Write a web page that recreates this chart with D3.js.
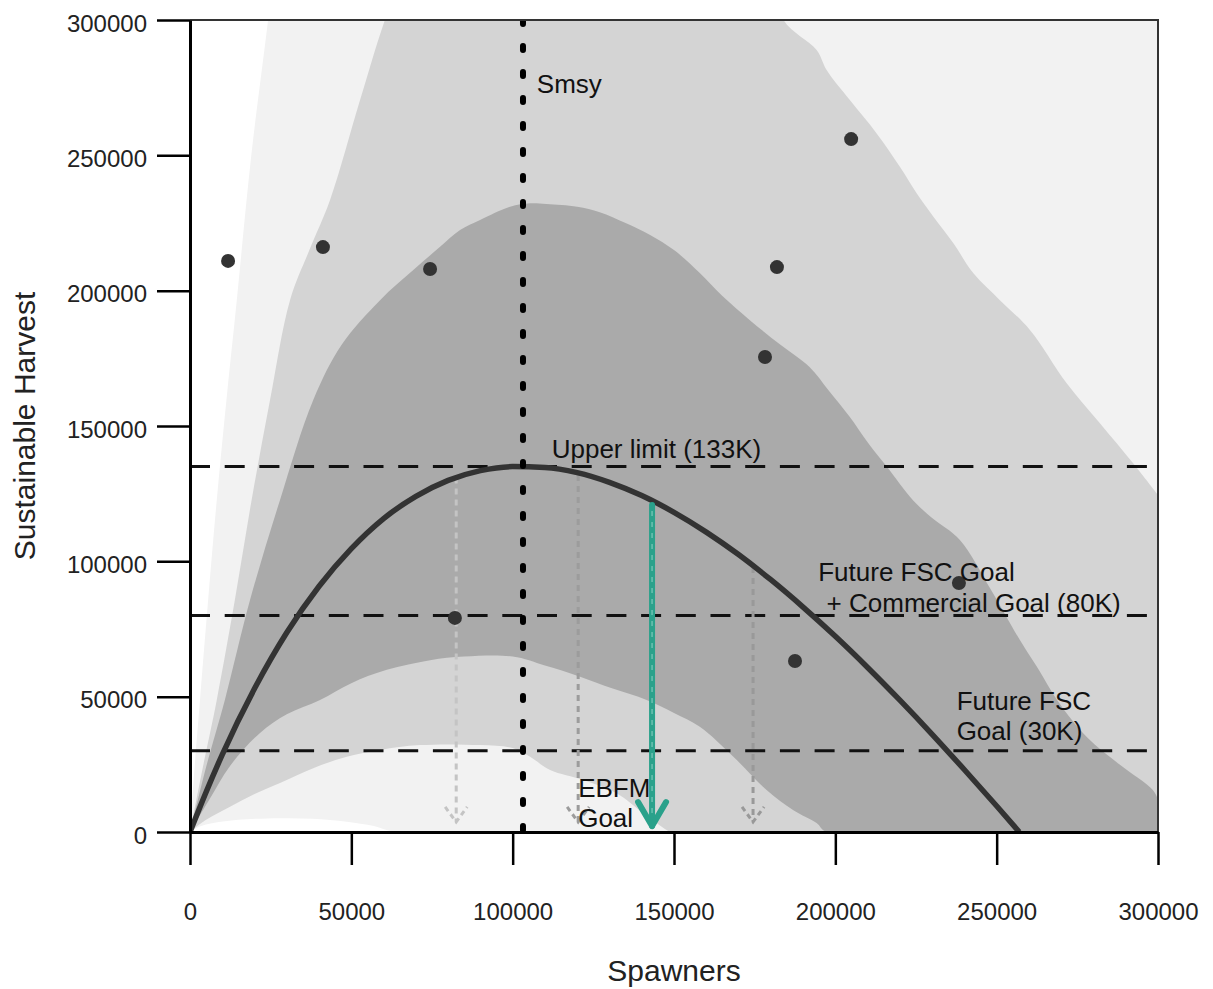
<!DOCTYPE html>
<html><head><meta charset="utf-8">
<script src="https://cdn.jsdelivr.net/npm/d3@7"></script>
<style>
body{margin:0;background:#fff}
text{font-family:"Liberation Sans",Arial,Helvetica,sans-serif}
</style>
</head><body>
<svg id="chart" width="1213" height="989"></svg>
<script>
// ---------- data ----------
const xTicks = [0, 50000, 100000, 150000, 200000, 250000, 300000];
const yTicks = [0, 50000, 100000, 150000, 200000, 250000, 300000];

// median sustainable-harvest curve
const curveS = [0,5000,10000,20000,30000,40000,50000,60000,70000,80000,90000,100000,110000,120000,130000,140000,150000,160000,170000,180000,190000,200000,210000,220000,230000,240000,250000,257000];
const curveH = [0,14800,28600,53000,73700,90800,104700,115800,124000,129900,133500,135000,134700,132800,129200,124300,118100,110800,102500,93200,83100,72300,60800,48700,36100,23000,9600,0];

// observed points
const pointsS = [11800, 41200, 74400, 82100, 178200, 181900, 204900, 187500, 238300];
const pointsH = [211000, 216100, 208000, 79100, 175500, 208700, 256000, 63200, 92000];

// outer band upper (97.5%) and lower (2.5%)
const hi975S = [0,1500,3100,5500,8300,11500,14500,19000,24200,30000,300000];
const hi975H = [0,25000,48800,84000,122700,162000,196500,250000,300000,360000,360000];
const lo025S = [0,3000,7200,15000,27900,38000,48600,57000,64000,300000];
const lo025H = [0,2000,3300,4500,5100,4900,3800,2200,0,0];

// middle band upper (90%) and lower (10%)
const hi90S = [0,4000,8300,13900,19100,24800,31000,37000,43400,52700,60400,70000,175000,183900,194200,197300,204500,212800,220000,225200,230400,236600,242800,251000,260300,271700,282000,292300,299600,300000];
const hi90H = [0,24000,48800,85700,122700,159600,196500,215000,233500,270400,300000,330000,330000,300000,288900,281500,270400,258100,245800,236000,227300,217500,206400,196500,185500,165800,151000,136200,125100,124500];
const lo10S = [0,5000,12400,20000,27900,38000,48600,58900,71300,89900,100000,105400,111600,121900,132200,140500,147700,149000,300000];
const lo10H = [0,4500,9300,14000,18100,23500,27800,30300,32100,32100,31000,27800,22900,19200,14300,6900,700,0,0];

// inner band upper (75%) and lower (25%)
const hi75S = [0,5000,10800,18600,27900,38200,47000,58900,69200,77500,83700,89900,99200,105400,110500,120000,127000,135000,142600,150000,158000,165000,173600,183000,192000,198000,204500,210000,216000,224000,230000,238600,248000,257200,263000,268700,278000,288000,298400,300000];
const hi75H = [0,24000,48800,85700,122700,159600,180000,196500,207600,216200,222400,226100,231000,232300,232000,231000,229000,225000,220600,215000,206500,198000,189000,180000,171800,163000,153300,144000,134900,122700,116000,107900,90000,70900,60000,48800,35000,25000,15500,12000];
const lo25S = [0,6000,12400,21700,30000,40300,50000,61000,74400,85000,100000,110000,120900,131000,141500,150000,158000,168400,178700,187000,194200,197300,300000];
const lo25H = [0,12000,24400,36600,43500,48800,55000,59900,63500,64800,64800,61500,57400,53000,48800,44000,38900,27800,15500,8000,3300,0,0];

// reference levels and annotations
const goalLevels = [135000, 80000, 30000];
const smsy = 103200;
const arrowS = [82500, 120300, 174500];
const arrowTop = [131000, 131900, 97900];
const arrowColor = ["#c4c4c4", "#9c9c9c", "#999999"];
const arrowBottom = 3700;
const ebfmS = 143200, ebfmTop = 120800, ebfmBottom = 2200;

const labels = [
  {t:"Smsy", s:107500, h:273000},
  {t:"Upper limit (133K)", s:112100, h:138100},
  {t:"Future FSC Goal", s:194700, h:92800},
  {t:"+ Commercial Goal (80K)", s:197300, h:81400},
  {t:"Future FSC", s:237600, h:45100},
  {t:"Goal (30K)", s:237600, h:34000},
  {t:"EBFM", s:120300, h:13000},
  {t:"Goal", s:120300, h:2000}
];

// ---------- layout ----------
const L = 190, R = 1158, T = 20, B = 832;
const svg = d3.select("#chart");
const x = d3.scaleLinear().domain([0, 300000]).range([L, R]);
const y = d3.scaleLinear().domain([0, 300000]).range([B, T]);

svg.append("defs").append("clipPath").attr("id","clip")
  .append("rect").attr("x",L).attr("y",T).attr("width",R-L).attr("height",B-T);

const plot = svg.append("g").attr("clip-path","url(#clip)");

const zip = (S,H) => S.map((s,i)=>[s,H[i]]);
const smooth = d3.line().x(d=>x(d[0])).y(d=>y(d[1])).curve(d3.curveCatmullRom.alpha(0.5));
const bandPath = (uS,uH,lS,lH) => {
  const up = smooth(zip(uS,uH));
  const lo = smooth(zip(lS,lH).reverse()).replace(/^M/,"L");
  return up + lo + "Z";
};

const bands = [
  {d: bandPath(hi975S,hi975H,lo025S,lo025H), c:"#f2f2f2"},
  {d: bandPath(hi90S,hi90H,lo10S,lo10H), c:"#d4d4d4"},
  {d: bandPath(hi75S,hi75H,lo25S,lo25H), c:"#aaaaaa"}
];
plot.selectAll("path.band").data(bands).join("path")
  .attr("class","band").attr("d", d=>d.d).attr("fill", d=>d.c);

// horizontal goal lines
plot.selectAll("line.goal").data(goalLevels).join("line")
  .attr("x1", x(0)).attr("x2", x(300000))
  .attr("y1", d=>y(d)).attr("y2", d=>y(d))
  .attr("stroke","#111").attr("stroke-width",3).attr("stroke-dasharray","20,14.7");

// gray dotted arrows
const ga = plot.selectAll("g.garrow").data(arrowS).join("g").attr("class","garrow");
ga.append("line")
  .attr("x1", d=>x(d)).attr("x2", d=>x(d))
  .attr("y1", (d,i)=>y(arrowTop[i])).attr("y2", y(arrowBottom))
  .attr("stroke",(d,i)=>arrowColor[i]).attr("stroke-width",3).attr("stroke-dasharray","6,5");
ga.append("path")
  .attr("d", d=>`M${x(d)-11},${y(arrowBottom)-15}L${x(d)},${y(arrowBottom)}L${x(d)+11},${y(arrowBottom)-15}`)
  .attr("fill","none").attr("stroke",(d,i)=>arrowColor[i]).attr("stroke-width",3).attr("stroke-dasharray","5,4");

// curve
plot.append("path").datum(zip(curveS,curveH))
  .attr("d", d3.line().x(d=>x(d[0])).y(d=>y(d[1])).curve(d3.curveMonotoneX))
  .attr("fill","none").attr("stroke","#333").attr("stroke-width",5.5);

// Smsy dotted vertical
plot.append("line").attr("x1",x(smsy)).attr("x2",x(smsy)).attr("y1",y(300000)).attr("y2",y(0))
  .attr("stroke","#000").attr("stroke-width",6).attr("stroke-linecap","round")
  .attr("stroke-dasharray","4,22");

// EBFM teal arrow
plot.append("line").attr("x1",x(ebfmS)).attr("x2",x(ebfmS)).attr("y1",y(ebfmTop)).attr("y2",y(ebfmBottom))
  .attr("stroke","#2aa18b").attr("stroke-width",6).attr("stroke-linecap","round");
plot.append("line").attr("x1",x(ebfmS)).attr("x2",x(ebfmS)).attr("y1",y(ebfmTop)+6).attr("y2",y(ebfmBottom)-8)
  .attr("stroke","#6cc2b2").attr("stroke-width",1.5).attr("stroke-dasharray","5,6");
plot.append("path")
  .attr("d", `M${x(ebfmS)-14},${y(ebfmBottom)-24}L${x(ebfmS)},${y(ebfmBottom)}L${x(ebfmS)+14},${y(ebfmBottom)-24}`)
  .attr("fill","none").attr("stroke","#2aa18b").attr("stroke-width",6).attr("stroke-linecap","round").attr("stroke-linejoin","round");

// points
plot.selectAll("circle.pt").data(zip(pointsS,pointsH)).join("circle")
  .attr("class","pt").attr("cx",d=>x(d[0])).attr("cy",d=>y(d[1])).attr("r",7).attr("fill","#333");

// annotations
svg.selectAll("text.ann").data(labels).join("text")
  .attr("class","ann").attr("x",d=>x(d.s)).attr("y",d=>y(d.h))
  .attr("font-size",26).attr("fill","#111").text(d=>d.t);

// frame
svg.append("path").attr("d",`M${L},${T}H${R}V${B}`).attr("fill","none").attr("stroke","#333").attr("stroke-width",2);

// axes
const fmt = d3.format("d");
const xAxis = svg.append("g").attr("transform",`translate(0,${B})`)
  .call(d3.axisBottom(x).tickValues(xTicks).tickFormat(fmt).tickSize(33).tickSizeOuter(0).tickPadding(38));
const yAxis = svg.append("g").attr("transform",`translate(${L},0)`)
  .call(d3.axisLeft(y).tickValues(yTicks).tickFormat(fmt).tickSize(33).tickSizeOuter(0).tickPadding(10));
[xAxis,yAxis].forEach(a=>{
  a.select(".domain").attr("stroke","#000").attr("stroke-width",3);
  a.selectAll(".tick line").attr("stroke","#000").attr("stroke-width",2.5);
  a.selectAll(".tick text").attr("font-size",24).attr("fill","#222")
    .attr("font-family","'Liberation Sans',Arial,sans-serif");
});
yAxis.selectAll(".tick text").attr("dy","0.46em");

// axis titles
svg.append("text").attr("x",(L+R)/2).attr("y",981).attr("text-anchor","middle")
  .attr("font-size",30).attr("fill","#222").text("Spawners");
svg.append("text").attr("transform",`translate(35,${(T+B)/2}) rotate(-90)`).attr("text-anchor","middle")
  .attr("font-size",30).attr("fill","#222").text("Sustainable Harvest");
</script>
</body></html>
